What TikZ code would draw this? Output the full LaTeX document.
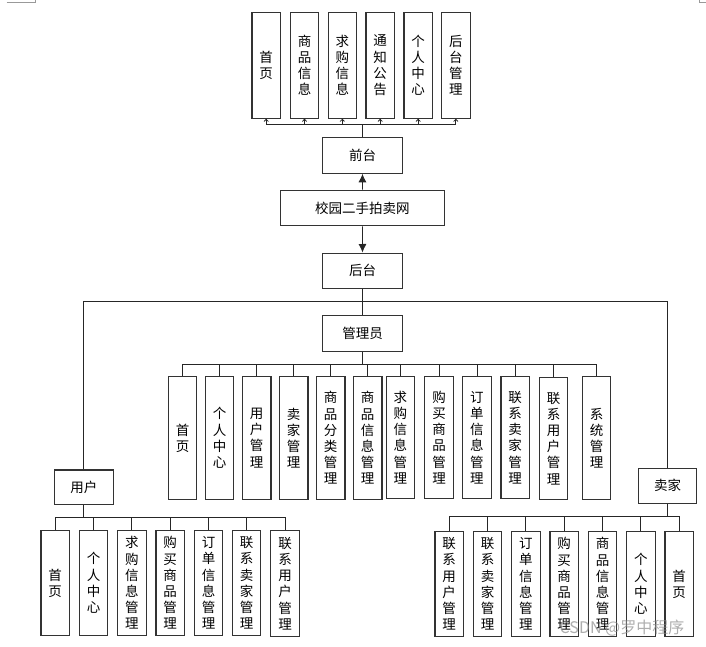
\documentclass[tikz,border=0pt]{standalone}
\usepackage{fontspec}
\newfontfamily\cjk{Noto Sans CJK SC}
\usetikzlibrary{arrows.meta}
\begin{document}
\begin{tikzpicture}[x=1pt,y=-1pt,
  txt/.style={font=\cjk\fontsize{13.5}{16.2}\selectfont},
  box/.style={txt,draw=black!80,line width=1.1pt,inner sep=0pt,align=center,fill=white},
  hbox/.style={box,minimum width=80pt,minimum height=35.5pt},
  vtop/.style={box,minimum width=28.5pt,minimum height=106pt},
  vmid/.style={box,minimum width=28.5pt,minimum height=122.5pt},
  vbot/.style={box,minimum width=28.5pt,minimum height=105.5pt},
  conn/.style={draw=black!85,line width=0.8pt},
  smallarrow/.style={conn,-{To[length=3pt,width=5pt]}},
  bigarrow/.style={conn,-{Latex[length=8.5pt,width=8pt]}},
  cornermark/.style={draw=black!40,line width=0.7pt}
]
\useasboundingbox (0,0) rectangle (706,647);
% page corner marks
\coordinate (ca) at (6.7,2.3); \coordinate (cb) at (35.7,2.3); \coordinate (cc) at (35.7,0);
\draw[cornermark] (ca) -- (cb) -- (cc);
\coordinate (cd) at (706,2.3); \coordinate (ce) at (699.3,2.3); \coordinate (cf) at (699.3,0);
\draw[cornermark] (cd) -- (ce) -- (cf);

% top row
\node[vtop] (t1) at (266.2,65.3) {首\\页};
\node[vtop] (t2) at (304.5,65.3) {商\\品\\信\\息};
\node[vtop] (t3) at (342.3,65.3) {求\\购\\信\\息};
\node[vtop] (t4) at (380.2,65.3) {通\\知\\公\\告};
\node[vtop] (t5) at (418.2,65.3) {个\\人\\中\\心};
\node[vtop] (t6) at (455.8,65.3) {后\\台\\管\\理};

\node[hbox] (qt) at (362.5,155.5) {前台};
\node[box,minimum width=163.5pt,minimum height=35.5pt] (xy) at (362.4,208) {校园二手拍卖网};
\node[hbox] (ht) at (362.5,270.8) {后台};
\node[hbox] (gly) at (362.5,333.5) {管理员};

\coordinate (tb) at (362.5,124);
\draw[conn] (qt.north) -- (tb);
\foreach \i in {1,...,6} \draw[smallarrow] (tb) -| (t\i.south);
\draw[bigarrow] (xy.north) -- (qt.south);
\draw[bigarrow] (xy.south) -- (ht.north);
\draw[conn] (ht.south) -- (gly.north);

% manager row
\node[vmid] (m1) at (182.5,438) {首\\页};
\node[vmid] (m2) at (219.5,438) {个\\人\\中\\心};
\node[vmid] (m3) at (256.7,438) {用\\户\\管\\理};
\node[vmid] (m4) at (293.7,438) {卖\\家\\管\\理};
\node[vmid] (m5) at (330.7,438) {商\\品\\分\\类\\管\\理};
\node[vmid] (m6) at (367.7,438) {商\\品\\信\\息\\管\\理};
\node[vmid] (m7) at (400.3,437.5) {求\\购\\信\\息\\管\\理};
\node[vmid] (m8) at (439,437.5) {购\\买\\商\\品\\管\\理};
\node[vmid] (m9) at (476.9,437.5) {订\\单\\信\\息\\管\\理};
\node[vmid] (m10) at (515.2,437.5) {联\\系\\卖\\家\\管\\理};
\node[vmid] (m11) at (553.5,438.3) {联\\系\\用\\户\\管\\理};
\node[vmid] (m12) at (596.5,438) {系\\统\\管\\理};

\coordinate (mb) at (362.5,364);
\draw[conn] (gly.south) -- (mb);
\foreach \i in {1,...,12} \draw[conn] (mb) -| (m\i.north);

% user and seller
\node[box,minimum width=59pt,minimum height=34.5pt] (yh) at (83.8,487.2) {用户};
\node[box,minimum width=58.5pt,minimum height=35pt] (mj) at (667.5,485.8) {卖家};
\coordinate (hr) at (667.5,301);
\draw[conn] (yh.north) |- (hr) -- (mj.north);

% user row
\node[vbot] (u1) at (55.2,583) {首\\页};
\node[vbot] (u2) at (93.5,583) {个\\人\\中\\心};
\node[vbot] (u3) at (131.8,583) {求\\购\\信\\息\\管\\理};
\node[vbot] (u4) at (170.2,583) {购\\买\\商\\品\\管\\理};
\node[vbot] (u5) at (208.5,583) {订\\单\\信\\息\\管\\理};
\node[vbot] (u6) at (246.5,583) {联\\系\\卖\\家\\管\\理};
\node[vbot] (u7) at (285,583.5) {联\\系\\用\\户\\管\\理};
\coordinate (ub) at (83.8,517.7);
\draw[conn] (yh.south) -- (ub);
\foreach \i in {1,...,7} \draw[conn] (ub) -| (u\i.north);

% seller row
\node[vbot] (s1) at (449.2,584) {联\\系\\用\\户\\管\\理};
\node[vbot] (s2) at (487.5,584) {联\\系\\卖\\家\\管\\理};
\node[vbot] (s3) at (525.8,584) {订\\单\\信\\息\\管\\理};
\node[vbot] (s4) at (564.2,584) {购\\买\\商\\品\\管\\理};
\node[vbot] (s5) at (602.5,584) {商\\品\\信\\息\\管\\理};
\node[vbot] (s6) at (640.8,584) {个\\人\\中\\心};
\node[vbot] (s7) at (679.2,584) {首\\页};
\coordinate (sb) at (667.5,516.7);
\draw[conn] (mj.south) -- (sb);
\foreach \i in {1,...,7} \draw[conn] (sb) -| (s\i.north);

% watermark
\node[font=\cjk\fontsize{16}{18}\selectfont,text=black!45,opacity=0.7,inner sep=0pt] (wm) at (622,628.5) {CSDN @罗中程序};
\end{tikzpicture}
\end{document}
